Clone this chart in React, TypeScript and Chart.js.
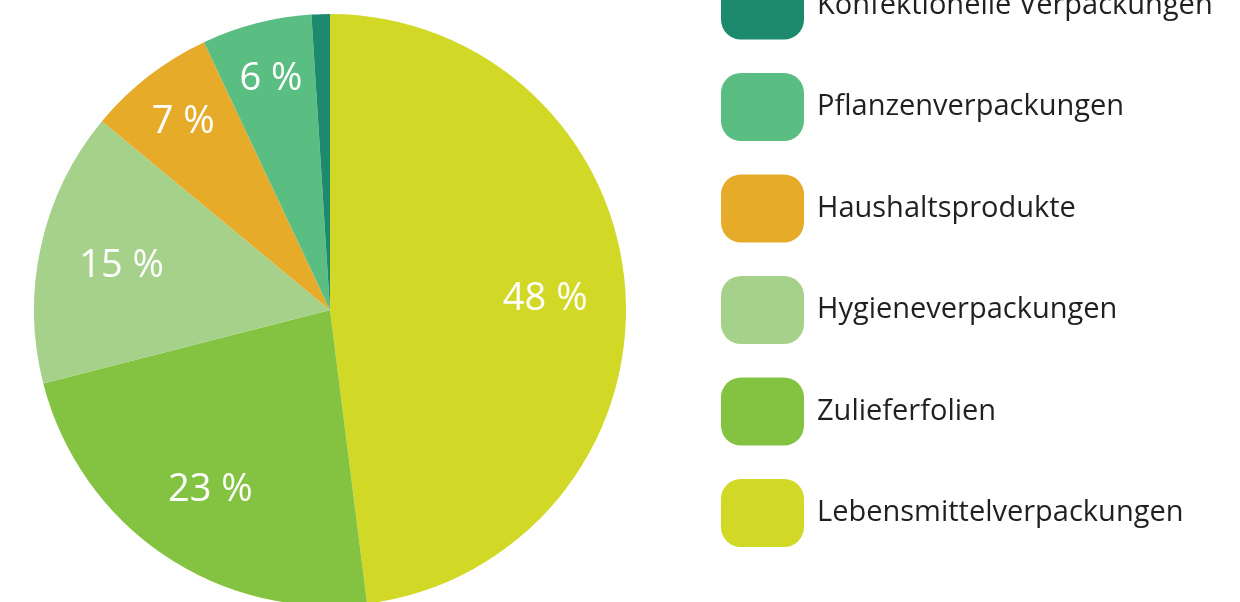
import React, { useEffect, useRef } from "react";
import { Chart, registerables } from "chart.js";

Chart.register(...registerables);

const categories = [
  "Lebensmittelverpackungen",
  "Zulieferfolien",
  "Hygieneverpackungen",
  "Haushaltsprodukte",
  "Pflanzenverpackungen",
  "Konfektionelle Verpackungen",
];
const shares = [48, 23, 15, 7, 6, 1];
const colors = ["#D1D826", "#84C341", "#A5D18A", "#E7AB2A", "#5ABE83", "#1D8A6E"];

const FONT = "'Open Sans', 'Noto Sans', sans-serif";

const sliceLabels = {
  id: "sliceLabels",
  afterDatasetsDraw(chart: any) {
    const ctx = chart.ctx;
    const meta = chart.getDatasetMeta(0);
    const data = chart.data.datasets[0].data as number[];
    ctx.save();
    ctx.fillStyle = "#ffffff";
    ctx.font = `400 38px ${FONT}`;
    ctx.textAlign = "center";
    ctx.textBaseline = "middle";
    meta.data.forEach((el: any, i: number) => {
      const v = data[i];
      if (v < 3) return;
      const p = el.getProps(["startAngle", "endAngle", "outerRadius", "x", "y"], true);
      const span = p.endAngle - p.startAngle;
      const f = span < 0.5 ? 0.815 : 0.725;
      const mid = (p.startAngle + p.endAngle) / 2;
      const r = p.outerRadius * f;
      ctx.fillText(`${v} %`, p.x + Math.cos(mid) * r + 1, p.y + Math.sin(mid) * r + 3);
    });
    ctx.restore();
  },
};

const sideLegend = {
  id: "sideLegend",
  afterDraw(chart: any) {
    const ctx = chart.ctx;
    const labels = chart.data.labels as string[];
    const bg = chart.data.datasets[0].backgroundColor as string[];
    const n = labels.length;
    const x = 721;
    const w = 83;
    const h = 68;
    const step = 101.5;
    const top0 = -28.5;
    ctx.save();
    ctx.font = `400 29px ${FONT}`;
    ctx.textBaseline = "middle";
    ctx.textAlign = "left";
    for (let k = 0; k < n; k++) {
      const i = n - 1 - k;
      const y = top0 + k * step;
      ctx.fillStyle = bg[i];
      ctx.beginPath();
      (ctx as any).roundRect(x, y, w, h, 20);
      ctx.fill();
      ctx.fillStyle = "#231F20";
      ctx.fillText(labels[i], 817, y + h / 2);
    }
    ctx.restore();
  },
};

export default function App() {
  const ref = useRef<HTMLCanvasElement | null>(null);
  useEffect(() => {
    document.body.style.margin = "0";
    const canvas = ref.current!;
    const chart = new Chart(canvas, {
      type: "pie",
      data: {
        labels: categories,
        datasets: [
          {
            data: shares,
            backgroundColor: colors,
            borderWidth: 0,
          },
        ],
      },
      options: {
        responsive: false,
        animation: false,
        devicePixelRatio: 1,
        layout: { padding: { left: 34, top: 14, right: 614, bottom: 34 } },
        plugins: {
          legend: { display: false },
          tooltip: { enabled: false },
        },
      },
      plugins: [sliceLabels, sideLegend],
    });
    return () => chart.destroy();
  }, []);
  return (
    <div
      style={{
        position: "absolute",
        left: 0,
        top: 0,
        width: 1240,
        height: 602,
        overflow: "hidden",
        background: "#ffffff",
      }}
    >
      <canvas ref={ref} width={1240} height={640} style={{ display: "block" }} />
    </div>
  );
}
